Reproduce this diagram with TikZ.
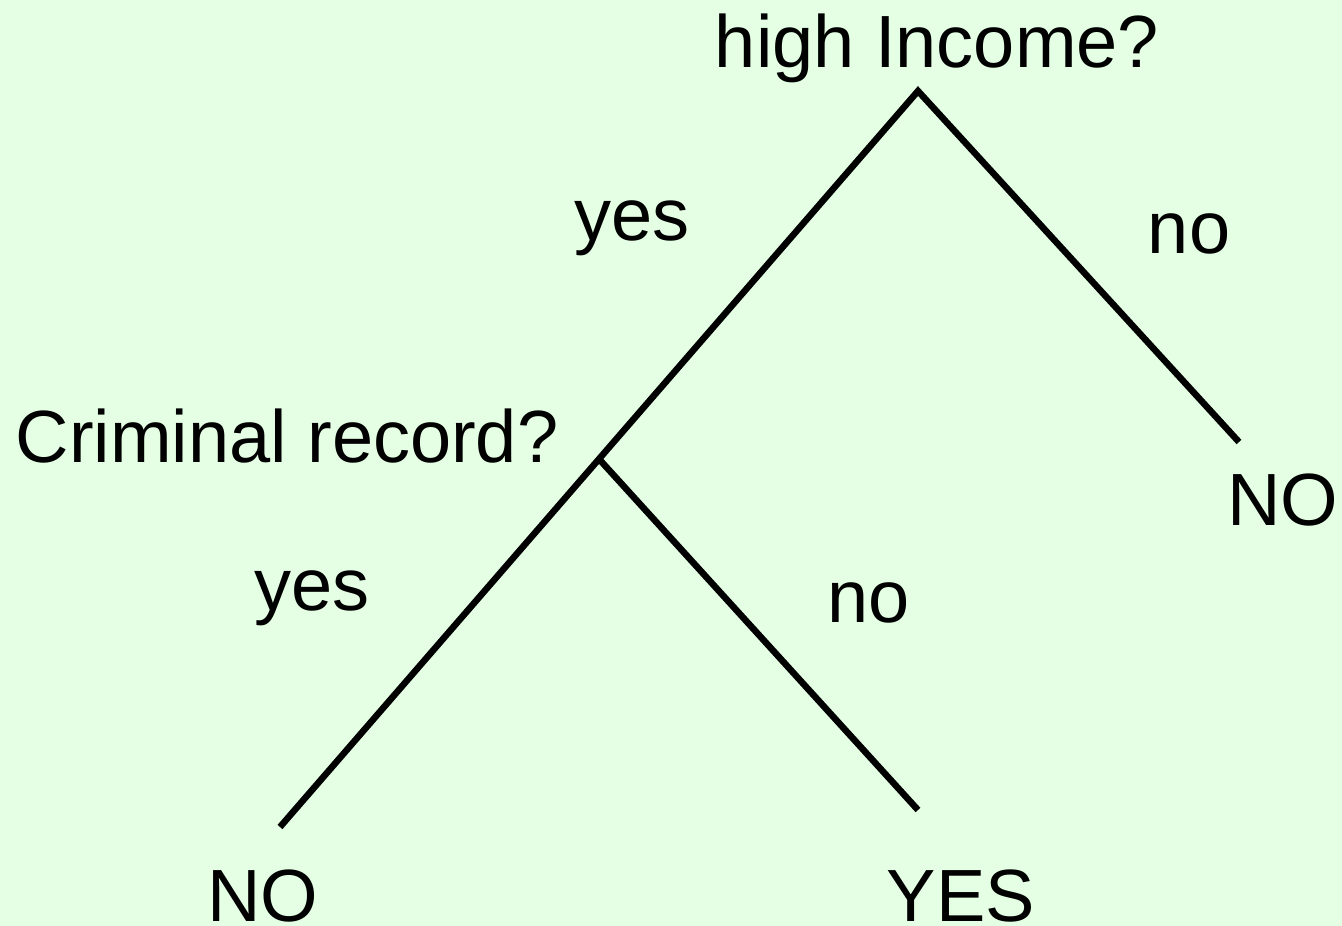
\documentclass[tikz,border=0pt]{standalone}
\usepackage{fontspec}
\setmainfont{Liberation Sans}
\definecolor{bggreen}{RGB}{229,255,229}
\begin{document}
\begin{tikzpicture}[x=1pt, y=-1pt, font=\fontsize{74}{88}\selectfont,
    every node/.style={inner sep=0, anchor=base, text depth=0pt}]
      % background
      \fill[bggreen] (0, 0) rectangle (1342, 926);
      \useasboundingbox (0, 0) rectangle (1342, 926);

      % branch points
      \coordinate (income) at (918, 91);
      \coordinate (crime) at (599, 459);
      \coordinate (noright) at (1239, 442);
      \coordinate (noleft) at (280, 827);
      \coordinate (yesleaf) at (918, 810);

      % questions
      \path (937, 67) node (incomeq) {high Income?};
      \path (287, 462) node (crimeq) {Criminal record?};

      % high Income
      \draw[line width=6.5] (noleft) -- (crime) -- (income) -- (noright);
      \path (632, 240) node (yesa) {yes};
      \path (1189, 253) node (noa) {no};
      \path (1283, 525) node (leafa) {NO};

      % Criminal record
      \draw[line width=6.5] (crime) -- (yesleaf);
      \path (312, 610) node (yesb) {yes};
      \path (869, 622) node (nob) {no};
      \path (263, 921) node (leafb) {NO};
      \path (961, 921) node (leafc) {YES};
    \end{tikzpicture}
\end{document}
